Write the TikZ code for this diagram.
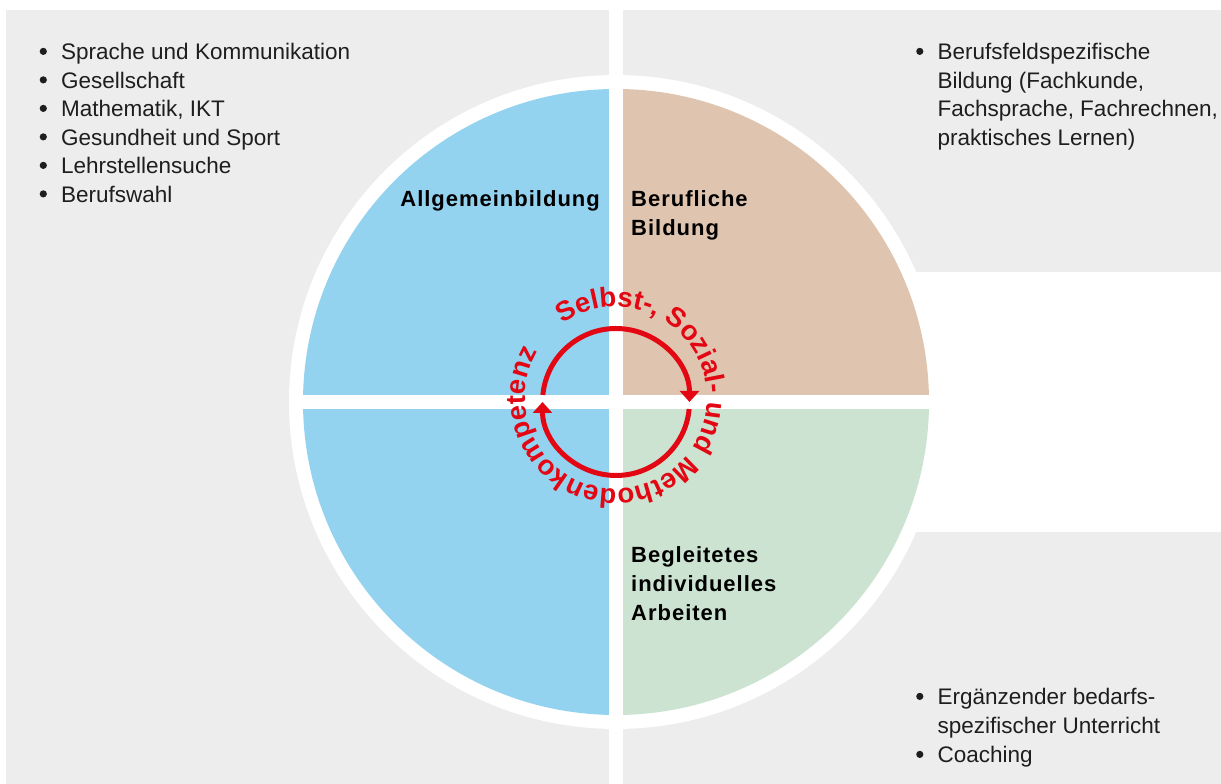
\documentclass[tikz,border=0pt]{standalone}
\usepackage{fontspec}
\setmainfont{Liberation Sans}
\newfontfamily\labfam[LetterSpace=4.5]{Liberation Sans}
\usetikzlibrary{arrows.meta,decorations.text}
\definecolor{panelgray}{HTML}{EDEDED}
\definecolor{qblue}{HTML}{94D3EF}
\definecolor{qtan}{HTML}{DFC5AF}
\definecolor{qgreen}{HTML}{CBE3D0}
\definecolor{kred}{HTML}{E30613}
\definecolor{listtext}{HTML}{1E1E1E}
\newcommand\listfont{\fontsize{22.5}{28.5}\selectfont\color{listtext}}
\newcommand\labfont{\labfam\bfseries\fontsize{22}{29}\selectfont}
\newcommand\redtextfont{\bfseries\fontsize{27.5}{27.5}\selectfont}
\newcommand\bul{\makebox[21.5pt][l]{\tikz[baseline=0pt]\fill[listtext] (3.6pt,8.6pt) circle[radius=3.6pt];}}
\tikzset{
  panel/.style={fill=panelgray},
  lab/.style={inner sep=0pt, font=\labfont, text=black},
  listnode/.style={inner sep=0pt, anchor=base west, font=\listfont},
  cyc/.style={draw=kred, line width=5pt, -{Triangle[width=19pt,length=11pt]}},
}
\begin{document}
\begin{tikzpicture}[x=1pt,y=1pt]
\useasboundingbox (0,0) rectangle (1221,784);
% panels
\fill[panel] (6,0) rectangle (609,774);
\fill[panel] (623,512) rectangle (1221,774);
\fill[panel] (623,0) rectangle (1221,252);
% circle
\coordinate (C) at (616,382);
\coordinate (T) at (616,386);
\fill[white] (C) circle[radius=327];
\fill[qblue] (C) -- ([shift={(90:313)}]C) arc[start angle=90,end angle=270,radius=313] -- cycle;
\fill[qtan] (C) -- ([shift={(0:313)}]C) arc[start angle=0,end angle=90,radius=313] -- cycle;
\fill[qgreen] (C) -- ([shift={(-90:313)}]C) arc[start angle=-90,end angle=0,radius=313] -- cycle;
\fill[white] (609,0) rectangle (623,784);
\fill[white] (289,375) rectangle (943,389);
% red cycle arrows
\draw[cyc] ([shift={(174.5:73.5)}]C) arc[start angle=174.5,end angle=0,radius=73.5];
\draw[cyc] ([shift={(-5.5:73.5)}]C) arc[start angle=-5.5,end angle=-180,radius=73.5];
% red text on circle
\path[decorate, decoration={text along path, text align={fit to path}, text color=kred,
  text={|\redtextfont|Selbst-, Sozial- und Methodenkompetenz}}]
  ([shift={(126:91)}]T) arc[start angle=126,end angle=-209,radius=91];
% quadrant labels
\node[lab, anchor=base east] (allg) at (600,577) {Allgemeinbildung};
\node[lab, anchor=base west] (beruf) at (631,577) {\begin{tabular}[t]{@{}l@{}}Berufliche\\Bildung\end{tabular}};
\node[lab, anchor=base west] (begl) at (631,221) {\begin{tabular}[t]{@{}l@{}}Begleitetes\\individuelles\\Arbeiten\end{tabular}};
% lists
\node[listnode] (lista) at (39.5,724) {\begin{tabular}[t]{@{}l@{}}
\bul Sprache und Kommunikation\\
\bul Gesellschaft\\
\bul Mathematik, IKT\\
\bul Gesundheit und Sport\\
\bul Lehrstellensuche\\
\bul Berufswahl\end{tabular}};
\node[listnode] (listb) at (916,724) {\begin{tabular}[t]{@{}l@{}}
\bul Berufsfeldspezifische\\
\hspace*{21.5pt}Bildung (Fachkunde,\\
\hspace*{21.5pt}Fachsprache, Fachrechnen,\\
\hspace*{21.5pt}praktisches Lernen)\end{tabular}};
\node[listnode] (listc) at (916,79) {\fontsize{22.5}{29}\selectfont\begin{tabular}[t]{@{}l@{}}
\bul Ergänzender bedarfs-\\
\hspace*{21.5pt}spezifischer Unterricht\\
\bul Coaching\end{tabular}};
\end{tikzpicture}
\end{document}
